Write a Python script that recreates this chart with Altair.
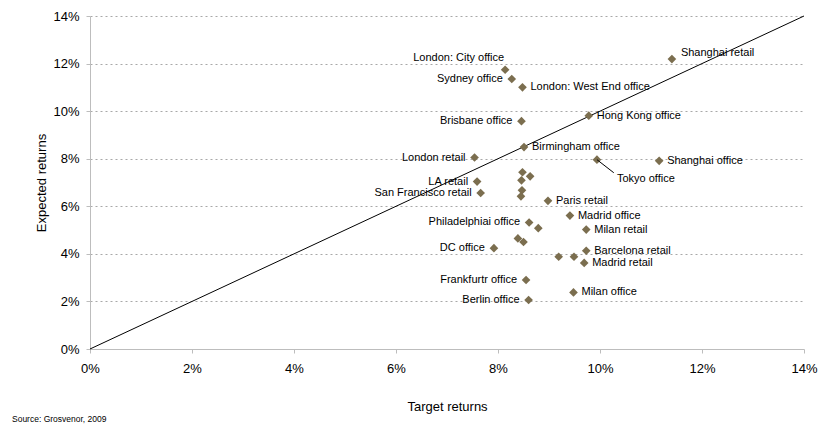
import altair as alt
import pandas as pd

# Property markets: target vs expected returns (%)
markets = [
    "London: City office", "Sydney office", "London: West End office", "Shanghai retail",
    "Hong Kong office", "Brisbane office", "Birmingham office", "London retail",
    "Tokyo office", "Shanghai office", "LA retail", "", "", "",
    "San Francisco retail", "", "", "Paris retail", "Madrid office",
    "Philadelphiai office", "", "Milan retail", "", "", "DC office", "", "",
    "Barcelona retail", "Madrid retail", "Frankfurtr office", "Berlin office", "Milan office",
]
target = [
    8.14, 8.27, 8.48, 11.41,
    9.78, 8.46, 8.51, 7.54,
    9.94, 11.16, 7.59, 8.48, 8.63, 8.46,
    7.66, 8.47, 8.45, 8.98, 9.41,
    8.61, 8.79, 9.73, 8.39, 8.50, 7.92, 9.19, 9.49,
    9.73, 9.69, 8.55, 8.60, 9.48,
]
expected = [
    11.74, 11.35, 11.00, 12.19,
    9.81, 9.58, 8.49, 8.05,
    7.96, 7.91, 7.04, 7.43, 7.26, 7.09,
    6.56, 6.67, 6.42, 6.23, 5.61,
    5.32, 5.08, 5.02, 4.65, 4.50, 4.24, 3.88, 3.88,
    4.13, 3.62, 2.90, 2.06, 2.38,
]

# Which side of its marker each name is written on
labels_right = [
    "London: West End office", "Hong Kong office", "Birmingham office", "Shanghai office",
    "Paris retail", "Madrid office", "Milan retail", "Barcelona retail",
    "Madrid retail", "Milan office",
]
labels_left = [
    "Sydney office", "Brisbane office", "London retail", "LA retail",
    "San Francisco retail", "Philadelphiai office", "DC office",
    "Frankfurtr office", "Berlin office",
]

ticks = [0, 2, 4, 6, 8, 10, 12, 14]

df = pd.DataFrame({"market": markets, "target": target, "expected": expected})
df["t"] = df["target"] / 100
df["e"] = df["expected"] / 100

FONT = "Liberation Sans"
POINT = "#7b6e4f"

x_scale = alt.Scale(domain=[0, 0.14], nice=False, zero=True)
y_scale = alt.Scale(domain=[0, 0.14], nice=False, zero=True)
tick_vals = [v / 100 for v in ticks]

x_enc = alt.X("t:Q", scale=x_scale, title="Target returns",
              axis=alt.Axis(format=".0%", values=tick_vals, grid=False,
                            labelFlush=False))
y_enc = alt.Y("e:Q", scale=y_scale, title="Expected returns",
              axis=alt.Axis(format=".0%", values=tick_vals, grid=True,
                            labelFlush=False))

# 45-degree reference line: target equals expected
diag = pd.DataFrame({"t": [0, 0.14], "e": [0, 0.14]})
line = alt.Chart(diag).mark_line(color="black", strokeWidth=1).encode(x=x_enc, y=y_enc)

points = alt.Chart(df).mark_point(
    shape="diamond", filled=True, size=75, color=POINT, opacity=1
).encode(x=x_enc, y=y_enc)

text_style = dict(font=FONT, fontSize=11, color="#000000", baseline="middle")

right_text = alt.Chart(df[df["market"].isin(labels_right)]).mark_text(
    align="left", dx=8, **text_style
).encode(x="t:Q", y="e:Q", text="market:N")

left_text = alt.Chart(df[df["market"].isin(labels_left)]).mark_text(
    align="right", dx=-9, **text_style
).encode(x="t:Q", y="e:Q", text="market:N")

city_text = alt.Chart(df[df["market"] == "London: City office"]).mark_text(
    align="right", dx=-1, dy=-12, **text_style
).encode(x="t:Q", y="e:Q", text="market:N")

shanghai_text = alt.Chart(df[df["market"] == "Shanghai retail"]).mark_text(
    align="left", dx=9, dy=-6, **text_style
).encode(x="t:Q", y="e:Q", text="market:N")

# Tokyo office label sits below-right with a short leader line
tokyo = df[df["market"] == "Tokyo office"].copy()
tokyo["t_end"] = tokyo["t"] + 0.0033
tokyo["e_end"] = tokyo["e"] - 0.0055
tokyo_leader = alt.Chart(tokyo).mark_rule(color="black", strokeWidth=1).encode(
    x=alt.X("t:Q", scale=x_scale), y=alt.Y("e:Q", scale=y_scale),
    x2="t_end:Q", y2="e_end:Q",
)
tokyo_text = alt.Chart(tokyo).mark_text(
    align="left", dx=20, dy=19, **text_style
).encode(x="t:Q", y="e:Q", text="market:N")

source = alt.Chart(pd.DataFrame({"s": ["Source:  Grosvenor, 2009"]})).mark_text(
    align="left", baseline="middle", font=FONT, fontSize=8.5, color="#000000"
).encode(x=alt.value(-78), y=alt.value(403), text="s:N")

chart = alt.layer(
    line, points, right_text, left_text, city_text, shanghai_text,
    tokyo_leader, tokyo_text, source,
).properties(
    width=714, height=333,
    autosize=alt.AutoSizeParams(type="none"),
    padding={"left": 90, "top": 16, "right": 15, "bottom": 79},
    background="white",
).configure_view(
    stroke=None
).configure_axis(
    labelFont=FONT, titleFont=FONT, labelFontSize=13, titleFontSize=13,
    labelColor="#000000", titleColor="#000000", titleFontWeight=400,
    domainColor="#bdbdbd", tickColor="#bdbdbd", tickSize=4,
    gridColor="#a8a8a8", gridDash=[2, 3], gridWidth=1,
).configure_axisX(
    labelPadding=9, titlePadding=25, titleFontWeight=400,
).configure_axisY(
    labelPadding=7, titlePadding=4, titleFontWeight=400,
)

chart.save("out.html", embed_options={"renderer": "svg", "actions": False})
